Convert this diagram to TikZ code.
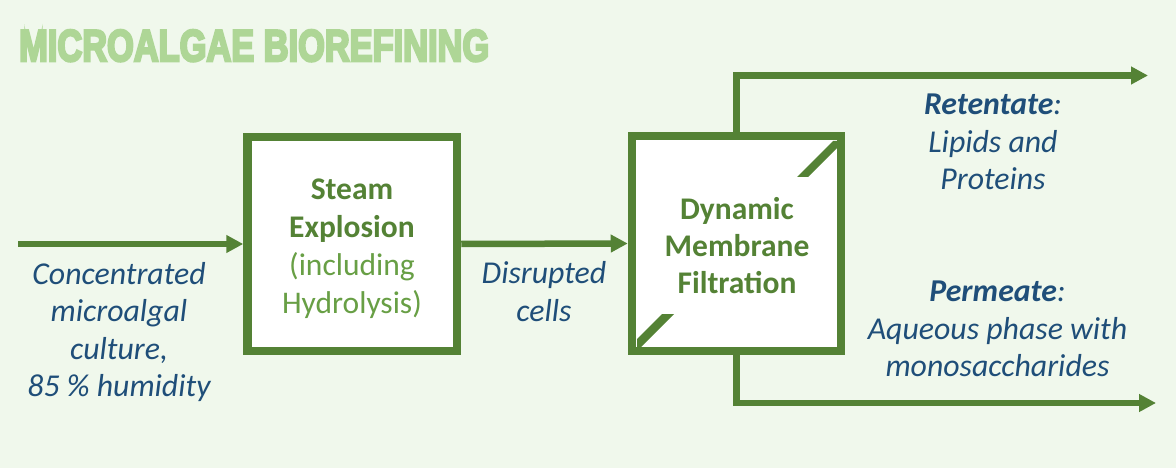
\documentclass[tikz,border=0pt]{standalone}
\usepackage{fontspec}
\setmainfont{Carlito}
\newfontfamily\titlefont{Liberation Sans}[BoldFeatures={FakeBold=6}]
\usetikzlibrary{arrows.meta}
\definecolor{bgc}{HTML}{F0F8EC}
\definecolor{grn}{HTML}{548235}
\definecolor{lgrn}{HTML}{689F45}
\definecolor{ttl}{HTML}{AED696}
\definecolor{blu}{HTML}{1F4E79}
\tikzset{
  procbox/.style={draw=grn, fill=white, line width=8.5pt, inner sep=0pt},
  flow/.style={draw=grn, line width=6.5pt, -{Triangle[length=17pt,width=17pt]}},
  lbl/.style={text=blu, font=\fontsize{31.8}{37.5}\selectfont\itshape, align=center, inner sep=0pt},
  boxtxt/.style={text=grn, font=\fontsize{31.5}{38}\selectfont, align=center, inner sep=0pt},
}
\begin{document}
\begin{tikzpicture}[x=1pt,y=-1pt]
\fill[bgc] (0,0) rectangle (1176,468);
\useasboundingbox (0,0) rectangle (1176,468);
% title
\node[anchor=base west, inner sep=0pt, text=ttl] (title) at (19,61)
  {\resizebox{470pt}{31pt}{\titlefont\bfseries MICROALGAE BIOREFINING}};
% boxes
\node[procbox, minimum width=209.5pt, minimum height=214pt] (steam) at (352.25,244) {};
\node[procbox, minimum width=209pt, minimum height=215pt] (filt) at (736.5,243.5) {};
% membrane corner marks
\fill[grn] (797,177) -- (833,141) -- (837,141) -- (837,148) -- (808,177) -- cycle;
\fill[grn] (637,339) -- (662,314) -- (674,314) -- (641,347) -- (637,347) -- cycle;
% box texts
\node[boxtxt] (steamtxt) at (352,249)
  {\bfseries Steam\\\bfseries Explosion\\\color{lgrn}(including\\\color{lgrn}Hydrolysis)};
\node[boxtxt, font=\fontsize{31.5}{37}\selectfont\bfseries] (filttxt) at (737,246)
  {Dynamic\\Membrane\\Filtration};
% connectors
\coordinate (inp) at (18,244);
\coordinate (retout) at (1148,75.5);
\coordinate (permout) at (1156,403);
\draw[flow] (inp) -- (steam.west);
\draw[flow] (steam.east) -- (filt.west);
\draw[flow, line join=miter] (filt.north) |- (retout);
\draw[flow, line join=miter] (filt.south) |- (permout);
% labels
\node[lbl] (intxt) at (119,332)
  {Concentrated\\microalgal\\culture,\\85 \% humidity};
\node[lbl] (distxt) at (544,291.5) {Disrupted\\cells};
\node[lbl] (rettxt) at (993,142) {\textbf{Retentate}:\\Lipids and\\Proteins};
\node[lbl] (pertxt) at (997.5,329) {\textbf{Permeate}:\\Aqueous phase with\\monosaccharides};
\end{tikzpicture}
\end{document}
